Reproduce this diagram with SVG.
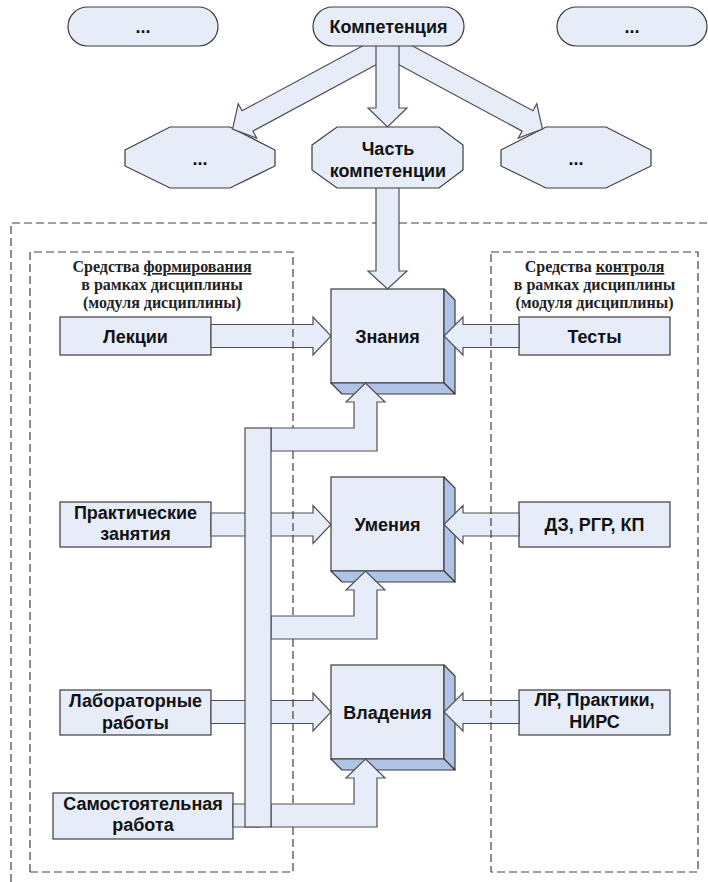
<svg xmlns="http://www.w3.org/2000/svg" width="708" height="882" viewBox="0 0 708 882">
<style>
.box{fill:#e6ecf8;stroke:#3c3c3c;stroke-width:1.2}
.side{fill:#aec3e5;stroke:#3c3c3c;stroke-width:1.2;stroke-linejoin:round}
.arr{fill:#e6ecf8;stroke:#505050;stroke-width:1.2;stroke-linejoin:miter}
.dash{fill:none;stroke:#404040;stroke-width:1.2;stroke-dasharray:8 4}
.t{font-family:"Liberation Sans",Arial,sans-serif;font-weight:bold;font-size:18px;fill:#111;text-anchor:middle}
.h{font-family:"Liberation Serif","Times New Roman",serif;font-weight:bold;font-size:16px;fill:#222;text-anchor:middle}
</style>
<rect width="708" height="882" fill="#fff"/>

<g id="node-znaniya">
<rect class="box" x="331" y="289" width="113" height="94"/>
<polygon class="side" points="444,289 455,300 455,394 444,383"/>
<polygon class="side" points="331,383 444,383 455,394 342,394"/>
<text class="t" x="387.5" y="342.5">Знания</text>
</g>
<g id="node-umeniya">
<rect class="box" x="331" y="477" width="113" height="94"/>
<polygon class="side" points="444,477 455,488 455,582 444,571"/>
<polygon class="side" points="331,571 444,571 455,582 342,582"/>
<text class="t" x="387.5" y="531">Умения</text>
</g>
<g id="node-vladeniya">
<rect class="box" x="331" y="665" width="113" height="94"/>
<polygon class="side" points="444,665 455,676 455,770 444,759"/>
<polygon class="side" points="331,759 444,759 455,770 342,770"/>
<text class="t" x="387.5" y="718.5">Владения</text>
</g>

<g id="node-lekcii">
<rect class="box" x="60" y="317" width="151" height="38"/>
<text class="t" x="135.5" y="342.5">Лекции</text>
</g>
<g id="node-prakt">
<rect class="box" x="60" y="502" width="151" height="45"/>
<text class="t" x="135.5" y="519">Практические</text>
<text class="t" x="135.5" y="540">занятия</text>
</g>
<g id="node-lab">
<rect class="box" x="60" y="690" width="151" height="45"/>
<text class="t" x="135.5" y="707">Лабораторные</text>
<text class="t" x="135.5" y="729">работы</text>
</g>
<g id="node-samost">
<rect class="box" x="53" y="793" width="180" height="46"/>
<text class="t" x="143" y="810">Самостоятельная</text>
<text class="t" x="143" y="831">работа</text>
</g>
<g id="node-testy">
<rect class="box" x="519" y="317" width="151" height="38"/>
<text class="t" x="594.5" y="342.5">Тесты</text>
</g>
<g id="node-dz">
<rect class="box" x="519" y="502" width="151" height="45"/>
<text class="t" x="594.5" y="531">ДЗ, РГР, КП</text>
</g>
<g id="node-lr">
<rect class="box" x="519" y="690" width="151" height="45"/>
<text class="t" x="594.5" y="706">ЛР, Практики,</text>
<text class="t" x="594.5" y="728">НИРС</text>
</g>

<g id="node-top-left">
<rect class="box" x="68" y="7" width="150" height="39" rx="19.5"/>
<text class="t" x="143" y="33">...</text>
</g>
<g id="node-top-right">
<rect class="box" x="557" y="7" width="150" height="39" rx="19.5"/>
<text class="t" x="632" y="33">...</text>
</g>
<g id="node-oct-left">
<polygon class="box" points="125,150 170,127 230,127 275,150 275,166 230,188 170,188 125,166"/>
<text class="t" x="200" y="165">...</text>
</g>
<g id="node-oct-right">
<polygon class="box" points="501,150 546,127 606,127 651,150 651,166 606,188 546,188 501,166"/>
<text class="t" x="576" y="165">...</text>
</g>

<g id="connectors">
<polygon class="arr" points="375.8,38.8 242,110.8 238.2,103.8 232.5,129 256.7,138.1 252.9,131.1 386.7,59"/>
<polygon class="arr" points="399.2,38.8 533,110.8 536.8,103.8 542.5,129 518.3,138.1 522.1,131.1 388.3,59"/>
<polygon class="arr" points="376,40 399,40 399,108 407,108 387.5,127 368,108 376,108"/>
<polygon class="arr" points="376,180 399,180 399,271 407,271 387.5,289 368,271 376,271"/>
<polygon class="arr" points="211,324.5 313,324.5 313,317 331,336 313,355 313,347.5 211,347.5"/>
<polygon class="arr" points="211,513 313,513 313,505.5 331,524.5 313,543.5 313,536 211,536"/>
<polygon class="arr" points="211,700.5 313,700.5 313,693 331,712 313,731 313,723.5 211,723.5"/>
<polygon class="arr" points="233,804 260,804 260,827 233,827"/>
<polygon class="arr" points="519,324.5 463,324.5 463,317 444,336 463,355 463,347.5 519,347.5"/>
<polygon class="arr" points="519,513 463,513 463,505.5 444,524.5 463,543.5 463,536 519,536"/>
<polygon class="arr" points="519,700.5 463,700.5 463,693 444,712 463,731 463,723.5 519,723.5"/>
<polygon class="arr" points="271,428 354,428 354,402 346,402 365.5,383 385,402 377,402 377,451 271,451"/>
<polygon class="arr" points="271,616 354,616 354,590 346,590 365.5,571 385,590 377,590 377,639 271,639"/>
<polygon class="arr" points="271,804 354,804 354,778 346,778 365.5,759 385,778 377,778 377,827 271,827"/>
<rect class="arr" x="245" y="428" width="26" height="399"/>
</g>

<g id="frames">
<path class="dash" d="M11,882 V223 H376 M399,223 H708"/>
<path class="dash" d="M30,872 V252 H293 V428 M293,451 V616 M293,639 V804 M293,827 V872 H30"/>
<rect class="dash" x="491" y="252" width="207" height="620"/>
<text class="h" x="162" y="272">Средства <tspan text-decoration="underline">формирования</tspan></text>
<text class="h" x="162" y="290">в рамках дисциплины</text>
<text class="h" x="162" y="308">(модуля дисциплины)</text>
<text class="h" x="594.5" y="272">Средства <tspan text-decoration="underline">контроля</tspan></text>
<text class="h" x="594.5" y="290">в рамках дисциплины</text>
<text class="h" x="594.5" y="308">(модуля дисциплины)</text>
</g>

<g id="node-kompetenciya">
<rect class="box" x="313" y="7" width="151" height="39" rx="19.5"/>
<text class="t" x="388.5" y="33">Компетенция</text>
</g>
<g id="node-chast">
<polygon class="box" points="312,145 337,127 439,127 463,145 463,170 439,188 337,188 312,170"/>
<text class="t" x="388" y="155">Часть</text>
<text class="t" x="388" y="177">компетенции</text>
</g>
</svg>
